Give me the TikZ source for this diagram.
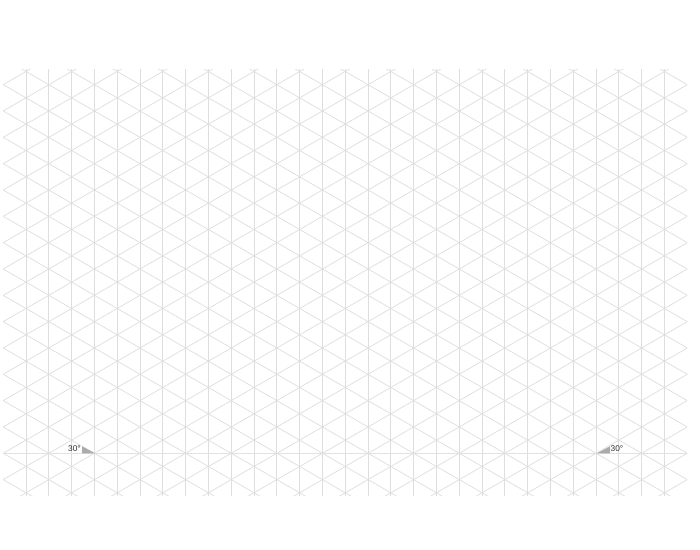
\documentclass[tikz,border=0pt]{standalone}
\usepackage{fontspec}
\setmainfont{Liberation Sans}
\definecolor{gridgray}{HTML}{DEDEDE}
\definecolor{basegray}{HTML}{E2E2E2}
\definecolor{wedgegray}{HTML}{ABABAB}
\definecolor{labelgray}{HTML}{2E2E2E}
\tikzset{
  gridline/.style={draw=gridgray, line width=0.7pt},
  baseline/.style={draw=basegray, line width=0.6pt},
  wedge/.style={fill=wedgegray, draw=none},
  anglelabel/.style={text=labelgray, font=\fontsize{8.3}{9}\selectfont, inner sep=0pt}
}
\begin{document}
\begin{tikzpicture}[x=1pt, y=-1pt]
  \useasboundingbox[fill=white] (0,0) rectangle (700,549);
  \pgfmathsetmacro{\dx}{22.8}
  \pgfmathsetmacro{\sy}{26.33}
  \begin{scope}
    \clip (3.2,69) rectangle (687.2,495);
    % vertical lines
    \foreach \k in {0,...,28} {
      \draw[gridline] ({26+\k*\dx},60) -- ({26+\k*\dx},505);
    }
    % diagonal lines, +30 and -30 degrees
    \foreach \j in {-18,...,34} {
      \draw[gridline] (0,{71.5+\j*\sy-26*0.57735}) -- (700,{71.5+\j*\sy+674*0.57735});
    }
    \foreach \j in {-2,...,34} {
      \draw[gridline] (0,{71.5+\j*\sy+26*0.57735}) -- (700,{71.5+\j*\sy-674*0.57735});
    }
    % base horizontal line
    \draw[baseline] (0,453.3) -- (700,453.3);
  \end{scope}
  % angle wedges
  \fill[wedge] (82,446.3) -- (82,453.3) -- (95,453.3) -- cycle;
  \fill[wedge] (597,453.3) -- (610,453.3) -- (610,446.3) -- cycle;
  \node[anglelabel] (lefta) at (74.5,448.8) {30°};
  \node[anglelabel] (righta) at (617,448.8) {30°};
\end{tikzpicture}
\end{document}
